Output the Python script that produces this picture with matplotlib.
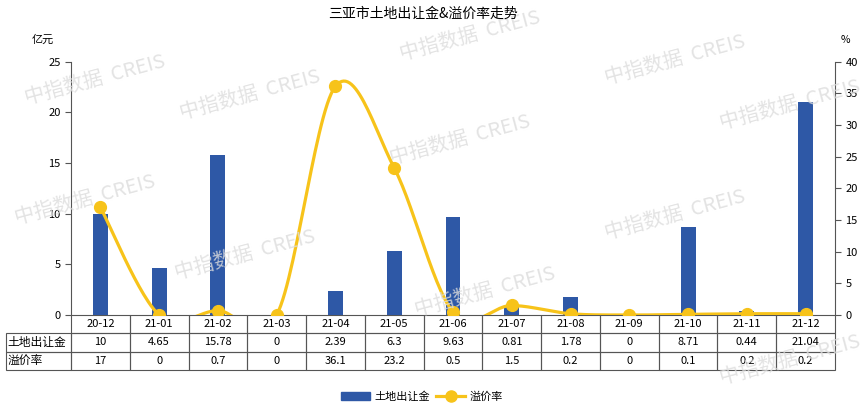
import numpy as np
import matplotlib
matplotlib.use("Agg")
import matplotlib.pyplot as plt
from matplotlib.lines import Line2D
from matplotlib.patches import Patch
from matplotlib.table import Table

plt.rcParams['font.family'] = ['Noto Sans CJK SC', 'DejaVu Sans']

months = ["20-12", "21-01", "21-02", "21-03", "21-04", "21-05", "21-06",
          "21-07", "21-08", "21-09", "21-10", "21-11", "21-12"]
revenue = [10, 4.65, 15.78, 0, 2.39, 6.3, 9.63, 0.81, 1.78, 0, 8.71, 0.44, 21.04]
premium = [17, 0, 0.7, 0, 36.1, 23.2, 0.5, 1.5, 0.2, 0, 0.1, 0.2, 0.2]
revenue_txt = ["10", "4.65", "15.78", "0", "2.39", "6.3", "9.63", "0.81", "1.78",
               "0", "8.71", "0.44", "21.04"]
premium_txt = ["17", "0", "0.7", "0", "36.1", "23.2", "0.5", "1.5", "0.2",
               "0", "0.1", "0.2", "0.2"]
row_names = ["土地出让金", "溢价率"]

BLUE = "#2E58A6"
GOLD = "#F7C31A"
EDGE = "#555555"


def smooth(x, y, n=30):
    # catmull-rom style smoothing, like the office chart "smoothed line"
    x = np.asarray(x, float)
    y = np.asarray(y, float)
    px = np.concatenate([[x[0]], x, [x[-1]]])
    py = np.concatenate([[y[0]], y, [y[-1]]])
    xs, ys = [], []
    t = np.linspace(0, 1, n)
    for i in range(1, len(px) - 2):
        for arr, out in ((px, xs), (py, ys)):
            p0, p1, p2, p3 = arr[i - 1], arr[i], arr[i + 1], arr[i + 2]
            c1 = p1 + (p2 - p0) / 6
            c2 = p2 - (p3 - p1) / 6
            out.extend((1 - t) ** 3 * p1 + 3 * (1 - t) ** 2 * t * c1
                       + 3 * (1 - t) * t ** 2 * c2 + t ** 3 * p2)
    return np.array(xs), np.array(ys)


W, H = 861, 409
L, R, T, B = 71, 835, 61.5, 315
fig = plt.figure(figsize=(W / 100, H / 100), dpi=100)
ax = fig.add_axes([L / W, 1 - B / H, (R - L) / W, (B - T) / H])
ax2 = ax.twinx()

x = np.arange(len(months))
ax.bar(x, revenue, width=0.255, color=BLUE, zorder=2)
ax.set_xlim(-0.5, len(months) - 0.5)
ax.set_ylim(0, 25)
ax.set_yticks(np.arange(0, 26, 5))
ax.set_xticks([])

sx, sy = smooth(x, premium)
ax2.plot(sx, sy, color=GOLD, lw=2.3, zorder=3)
ax2.plot(x, premium, 'o', color=GOLD, ms=8.5, zorder=4)
ax2.set_ylim(0, 40)
ax2.set_yticks(np.arange(0, 41, 5))

for a in (ax, ax2):
    a.spines['top'].set_visible(False)
    a.spines['bottom'].set_visible(False)
    a.tick_params(labelsize=8, length=4, color="#555555", width=0.8)
ax.spines['left'].set_color("#555555")
ax2.spines['right'].set_color("#555555")
ax2.spines['left'].set_visible(False)
ax.spines['right'].set_visible(False)

# data table under the plot, widths in pixels, scaled by bbox
lab_w, col_w, row_h = 65, (R - L) / 13, 18.3
aw, ah = R - L, B - T
tab = Table(ax, bbox=[(6 - L) / aw, -3 * row_h / ah, (R - 6) / aw, 3 * row_h / ah])
tab.auto_set_font_size(False)
rows = [[""] + months,
        [row_names[0]] + revenue_txt,
        [row_names[1]] + premium_txt]
for r, vals in enumerate(rows):
    for c, v in enumerate(vals):
        cell = tab.add_cell(r, c, width=lab_w if c == 0 else col_w, height=row_h,
                            text=v, loc='left' if c == 0 else 'center',
                            edgecolor=EDGE, facecolor='none')
        cell.set_linewidth(0.8)
        cell.get_text().set_fontsize(8.5 if c == 0 else 8)
        if c == 0:
            cell.PAD = 0.02
        if r == 0 and c == 0:
            cell.visible_edges = ''
ax.add_table(tab)

fig.text(423 / W, 1 - 14 / H, "三亚市土地出让金&溢价率走势", ha='center', va='center', fontsize=10)
fig.text(43 / W, 1 - 40 / H, "亿元", ha='center', va='center', fontsize=8)
fig.text(845 / W, 1 - 40 / H, "%", ha='center', va='center', fontsize=7.5)

# watermark
for wx, wy in [(95, 80), (250, 95), (675, 60), (460, 140), (85, 200), (245, 255),
               (485, 292), (675, 215), (790, 105), (790, 360), (470, 36)]:
    fig.text(wx / W, 1 - wy / H, "中指数据  CREIS", fontsize=14.5, color="#dcdcdc",
             rotation=15, ha='center', va='center', alpha=0.8, zorder=0)

handles = [Patch(color=BLUE, label="土地出让金"),
           Line2D([0], [0], color=GOLD, lw=2.3, marker='o', ms=8, label="溢价率")]
fig.legend(handles=handles, loc='center', bbox_to_anchor=(422 / W, 1 - 397 / H),
           ncol=2, frameon=False, fontsize=8, handlelength=2.6, columnspacing=0.6,
           handletextpad=0.4)

fig.savefig("out.png", dpi=100)
